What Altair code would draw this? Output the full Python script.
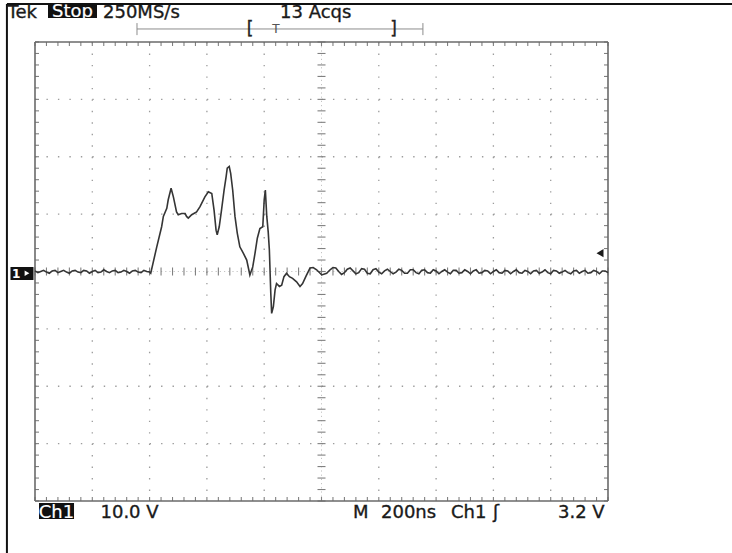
import altair as alt
import pandas as pd

# Scope settings: 200 ns/div horizontally, 10 V/div vertically, 10 x 8 divisions
NS_PER_DIV = 200
V_PER_DIV = 10
X_DOM = [-5 * NS_PER_DIV, 5 * NS_PER_DIV]
Y_DOM = [-4 * V_PER_DIV, 4 * V_PER_DIV]
TRIGGER_LEVEL = 3.2  # V

# Channel 1 record: time relative to trigger (ns) and voltage (V)
pre_t = list(range(-1000, -599, 10))
pre_v = [0.1, -0.2, 0.0, 0.2, -0.1, -0.3, 0.1, 0.2, -0.2, 0.0,
         0.2, -0.1, -0.3, 0.1, 0.2, -0.1, -0.2, 0.2, 0.1, -0.3,
         0.0, 0.2, -0.2, -0.1, 0.3, 0.0, -0.2, 0.1, 0.2, -0.2,
         -0.1, 0.2, 0.0, -0.3, 0.1, 0.2, -0.1, -0.2, 0.2, 0.0,
         -0.1]

burst_t = [-596, -575, -558, -552, -540, -535, -525, -517, -506, -500,
           -488, -476, -471, -465, -453, -436, -424, -407, -395, -383,
           -375, -368, -364, -357, -349, -340, -333, -329, -322, -317,
           -310, -302, -294, -285, -273, -261, -250, -240, -232, -224,
           -215, -205, -200, -196, -191, -186, -182, -177, -174, -168,
           -162, -157, -147, -139, -131, -122, -112, -101, -87, -75,
           -66, -54, -40, -29, -17, 1, 18]
burst_v = [-0.3, 4.3, 7.8, 9.6, 11.0, 12.5, 14.5, 13.0, 10.4, 9.9,
           10.1, 10.1, 9.6, 9.3, 9.9, 10.4, 11.3, 13.0, 13.9, 13.6,
           10.7, 7.2, 6.4, 7.8, 10.7, 14.2, 16.5, 18.0, 18.3, 17.1,
           14.2, 9.6, 6.7, 4.3, 3.2, 2.0, -0.6, 0.8, 3.2, 5.8,
           7.5, 7.8, 12.5, 14.2, 9.6, 6.9, 3.8, -3.8, -7.3, -6.1,
           -3.2, -2.1, -2.6, -2.4, -0.9, -0.3, -0.9, -1.2, -1.8, -2.6,
           -2.1, -0.8, 0.6, 0.7, 0.3, -0.6, -0.3]

post_t = list(range(30, 1001, 10))
post_v = [0.3, 0.7, 0.6, 0.0, -0.5, -0.2, 0.4, 0.6, 0.1, -0.4,
          -0.2, 0.5, 0.4, -0.3, -0.4, 0.3, 0.5, -0.1, -0.4, 0.1,
          0.4, 0.0, -0.4, -0.1, 0.4, 0.2, -0.3, -0.3, 0.3, 0.3,
          -0.2, -0.4, 0.2, 0.3, -0.2, -0.3, 0.3, 0.1, -0.4, 0.0,
          0.3, -0.1, -0.4, 0.2, 0.2, -0.3, -0.2, 0.3, 0.0, -0.4,
          0.1, 0.3, -0.3, -0.2, 0.2, 0.1, -0.4, 0.0, 0.3, -0.2,
          -0.3, 0.2, 0.1, -0.4, 0.0, 0.3, -0.2, -0.3, 0.2, 0.0,
          -0.4, 0.1, 0.2, -0.3, -0.1, 0.3, -0.2, -0.4, 0.2, 0.1,
          -0.3, -0.1, 0.2, -0.2, -0.4, 0.1, 0.2, -0.3, 0.0, 0.2,
          -0.3, -0.2, 0.2, 0.0, -0.4, 0.1, 0.1, -0.2]

trace = pd.DataFrame({"t": pre_t + burst_t + post_t,
                      "v": pre_v + burst_v + post_v})

xs = alt.Scale(domain=X_DOM, nice=False, zero=False)
ys = alt.Scale(domain=Y_DOM, nice=False, zero=False)


def segs(rows):
    """Rule segments given in screen divisions -> (ns, V)."""
    return pd.DataFrame([{"x0": a * NS_PER_DIV, "x1": b * NS_PER_DIV,
                          "y0": c * V_PER_DIV, "y1": d * V_PER_DIV} for a, b, c, d in rows])


def rules(df, color, width=1.0, dash=None):
    kw = dict(color=color, strokeWidth=width)
    if dash:
        kw["strokeDash"] = dash
    return alt.Chart(df).mark_rule(**kw).encode(
        x=alt.X("x0:Q", scale=xs, axis=None), x2="x1:Q",
        y=alt.Y("y0:Q", scale=ys, axis=None), y2="y1:Q")


def boxes(df, fill):
    return alt.Chart(df).mark_rect(fill=fill).encode(
        x=alt.X("x0:Q", scale=xs, axis=None), x2="x1:Q",
        y=alt.Y("y0:Q", scale=ys, axis=None), y2="y1:Q")


def labels(rows, color, align="left", size=18, baseline="alphabetic", weight="normal", halo=0.35):
    df = pd.DataFrame([{"x": a * NS_PER_DIV, "y": b * V_PER_DIV, "s": s} for a, b, s in rows])
    return alt.Chart(df).mark_text(color=color, align=align, baseline=baseline,
                                   fontSize=size, font="DejaVu Sans", fontWeight=weight,
                                   stroke=color, strokeWidth=halo).encode(
        x=alt.X("x:Q", scale=xs, axis=None), y=alt.Y("y:Q", scale=ys, axis=None), text="s:N")


# Graticule: dotted division lines, centre cross with minor ticks, border with minor ticks
grid_v = segs([(d, d, 4, -4) for d in (-4, -3, -2, -1, 1, 2, 3, 4)])
grid_h = segs([(-5, 5, d, d) for d in (-3, -2, -1, 1, 2, 3)])
centre = segs([(0, 0, 4, -4), (-5, 5, 0, 0)])
minor_x = [i / 5 for i in range(-25, 26)]
minor_y = [i / 5 for i in range(-20, 21)]
tk = 0.07
centre_ticks = segs([(x, x, -tk, tk) for x in minor_x] + [(-tk, tk, y, y) for y in minor_y])
edge_ticks = segs([(x, x, 4, 4 - tk) for x in minor_x] + [(x, x, -4, -4 + tk) for x in minor_x]
                  + [(-5, -5 + tk, y, y) for y in minor_y] + [(5, 5 - tk, y, y) for y in minor_y])
border = segs([(-5, 5, 4, 4), (-5, 5, -4, -4), (-5, -5, 4, -4), (5, 5, 4, -4)])

# Screen frame
frame = segs([(-5.49, 7.2, 4.662, 4.662), (-5.49, -5.49, 4.662, -4.95)])

# Record-position bar at the top
bar = segs([(-3.22, 1.77, 4.227, 4.227), (-3.22, -3.22, 4.33, 4.12), (1.77, 1.77, 4.33, 4.12)])

inverse = pd.DataFrame([
    {"x0": -4.773 * NS_PER_DIV, "x1": -3.918 * NS_PER_DIV, "y0": 4.662 * V_PER_DIV, "y1": 4.42 * V_PER_DIV},
    {"x0": -4.93 * NS_PER_DIV, "x1": -4.319 * NS_PER_DIV, "y0": -4.035 * V_PER_DIV, "y1": -4.314 * V_PER_DIV},
    {"x0": -5.428 * NS_PER_DIV, "x1": -5.026 * NS_PER_DIV, "y0": 0.078 * V_PER_DIV, "y1": -0.148 * V_PER_DIV},
])

trig = pd.DataFrame({"t": [4.86 * NS_PER_DIV], "v": [TRIGGER_LEVEL]})
gnd = pd.DataFrame({"t": [-5.14 * NS_PER_DIV], "v": [-0.3]})

layers = [
    rules(grid_v, "#9c9c9c", 1.3, [1.4, 10.075]),
    rules(grid_h, "#9c9c9c", 1.3, [1.4, 10.06]),
    rules(centre, "#c4c4c4", 1.0, [1.2, 3.0]),
    rules(centre_ticks, "#808080", 1.1),
    rules(edge_ticks, "#808080", 1.1),
    rules(border, "#6a6a6a", 1.6),
    rules(frame, "#111111", 2.0),
    rules(bar, "#8c8c8c", 1.0),
    alt.Chart(trace).mark_line(color="#353535", strokeWidth=1.6, interpolate="linear").encode(
        x=alt.X("t:Q", scale=xs, axis=None), y=alt.Y("v:Q", scale=ys, axis=None)),
    alt.Chart(trig).mark_point(shape="triangle-left", filled=True, size=65, color="#1a1a1a", opacity=1).encode(
        x=alt.X("t:Q", scale=xs, axis=None), y=alt.Y("v:Q", scale=ys, axis=None)),
    boxes(inverse, "#111111"),
    alt.Chart(gnd).mark_point(shape="triangle-right", filled=True, size=30, color="white", opacity=1).encode(
        x=alt.X("t:Q", scale=xs, axis=None), y=alt.Y("v:Q", scale=ys, axis=None)),
    labels([(-5.48, 4.427, "Tek"), (-3.813, 4.427, "250MS/s"), (-0.724, 4.427, "13 Acqs"),
            (-3.857, -4.296, "10.0 V"), (0.55, -4.296, "M"), (1.038, -4.296, "200ns"),
            (2.26, -4.296, "Ch1"), (2.993, -4.296, "ʃ"), (4.127, -4.296, "3.2 V")], "#1a1a1a"),
    labels([(-4.346, 4.44, "Stop"), (-4.625, -4.288, "Ch1")], "white", align="center", halo=0.2),
    labels([(-5.33, -0.035, "1")], "white", align="center", size=12, baseline="middle", weight="bold", halo=0.1),
    labels([(-1.248, 4.227, "["), (1.257, 4.227, "]")], "#222222", align="center", size=17, baseline="middle"),
    labels([(-0.794, 4.227, "T")], "#555555", align="center", size=12, baseline="middle", halo=0.1),
]

chart = alt.layer(*layers).properties(
    width=573, height=459,
    padding={"left": 35, "top": 42, "right": 124, "bottom": 52},
    autosize="none",
    background="white",
).configure_view(stroke=None)

chart.save("out.html", embed_options={"renderer": "svg", "actions": False})
